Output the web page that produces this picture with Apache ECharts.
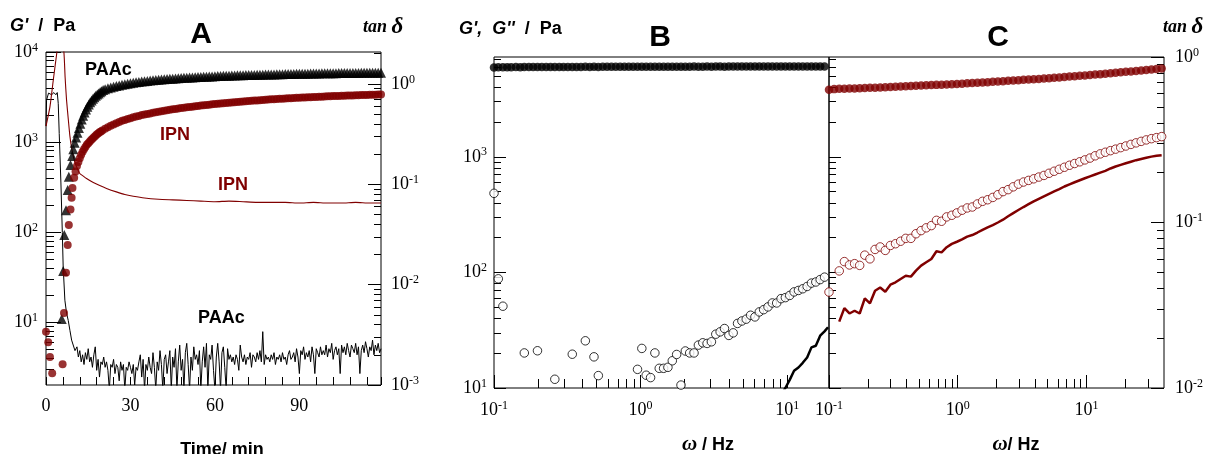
<!DOCTYPE html>
<html>
<head>
<meta charset="utf-8">
<script src="https://cdn.jsdelivr.net/npm/echarts@6/dist/echarts.min.js"></script>
<style>
  html, body { margin: 0; padding: 0; background: #fff; }
  #chart { width: 1219px; height: 454px; }
</style>
</head>
<body>
<div id="chart"></div>
<script>
// ---------- Panel A: G' and tan delta versus time ----------
const tPAAc = [5.6, 6.1, 6.5, 7.1, 7.7, 8.1, 8.7, 9.3, 9.7, 10.2, 10.7, 11.2, 11.7, 12.2, 12.7, 13.2, 13.7, 14.2, 14.7, 15.2,
  15.7, 16.2, 16.7, 17.2, 17.7, 18.2, 18.7, 19.2, 19.7, 20.3, 21, 22, 23, 24, 25, 26, 27, 28, 29, 30,
  31, 32, 33, 34, 35, 36, 37, 38, 39, 40, 41, 42, 43, 44, 45, 46, 47, 48, 49, 50,
  51, 52, 53, 54, 55, 56, 57, 58, 59, 60, 61, 62, 63, 64, 65, 66, 67, 68, 69, 70,
  71, 72, 73, 74, 75, 76, 77, 78, 79, 80, 81, 82, 83, 84, 85, 86, 87, 88, 89, 90,
  91, 92, 93, 94, 95, 96, 97, 98, 99, 100, 101, 102, 103, 104, 105, 106, 107, 108, 109, 110,
  111, 112, 113, 114, 115, 116, 117, 118, 119];
const gPAAc = [10.8, 37, 93, 175, 293, 412, 555, 698, 830, 980, 1120, 1270, 1430, 1600, 1780, 1960, 2130, 2300, 2460, 2610,
  2760, 2900, 3030, 3150, 3260, 3370, 3470, 3570, 3670, 3780, 3860, 3950, 4030, 4110, 4180, 4250, 4320, 4380, 4440, 4500,
  4550, 4600, 4650, 4690, 4730, 4770, 4810, 4850, 4880, 4910, 4940, 4970, 5000, 5030, 5060, 5080, 5110, 5130, 5160, 5180,
  5200, 5220, 5240, 5260, 5280, 5300, 5320, 5340, 5360, 5380, 5400, 5410, 5430, 5440, 5460, 5470, 5490, 5500, 5510, 5530,
  5540, 5550, 5560, 5570, 5580, 5590, 5600, 5610, 5620, 5630, 5640, 5650, 5660, 5670, 5680, 5690, 5700, 5710, 5720, 5730,
  5740, 5740, 5750, 5760, 5770, 5770, 5780, 5790, 5790, 5800, 5810, 5810, 5820, 5830, 5830, 5840, 5840, 5850, 5850, 5860,
  5860, 5870, 5870, 5880, 5880, 5890, 5890, 5900, 5900];

const tIPN = [0, 0.8, 1.4, 2.2, 5.9, 6.4, 7.1, 7.7, 8.1, 8.7, 9.1, 9.4, 10.0, 10.5, 11, 11.5, 12, 12.5, 13, 13.5,
  14, 14.5, 15, 15.5, 16, 16.5, 17, 17.5, 18, 18.5, 19, 19.5, 20, 21, 22, 23, 24, 25, 26, 27,
  28, 29, 30, 31, 32, 33, 34, 35, 36, 37, 38, 39, 40, 41, 42, 43, 44, 45, 46, 47,
  48, 49, 50, 51, 52, 53, 54, 55, 56, 57, 58, 59, 60, 61, 62, 63, 64, 65, 66, 67,
  68, 69, 70, 71, 72, 73, 74, 75, 76, 77, 78, 79, 80, 81, 82, 83, 84, 85, 86, 87,
  88, 89, 90, 91, 92, 93, 94, 95, 96, 97, 98, 99, 100, 101, 102, 103, 104, 105, 106, 107,
  108, 109, 110, 111, 112, 113, 114, 115, 116, 117, 118, 119];
const gIPN = [7.8, 5.96, 4.1, 2.7, 3.4, 12.6, 35.3, 71.7, 120, 178, 240, 309, 400, 470, 540, 600, 660, 720, 780, 830,
  880, 930, 970, 1010, 1050, 1090, 1130, 1170, 1210, 1240, 1280, 1310, 1340, 1400, 1460, 1520, 1570, 1620, 1670, 1720,
  1760, 1800, 1840, 1880, 1920, 1950, 1990, 2020, 2050, 2080, 2110, 2140, 2170, 2200, 2230, 2260, 2280, 2310, 2330, 2360,
  2380, 2400, 2430, 2450, 2470, 2490, 2520, 2540, 2560, 2580, 2600, 2620, 2640, 2660, 2680, 2700, 2710, 2730, 2750, 2770,
  2790, 2800, 2820, 2840, 2850, 2870, 2890, 2900, 2920, 2930, 2950, 2960, 2980, 2990, 3000, 3020, 3030, 3050, 3060, 3070,
  3080, 3100, 3110, 3120, 3130, 3140, 3150, 3160, 3170, 3180, 3190, 3200, 3220, 3230, 3240, 3240, 3250, 3260, 3270, 3280,
  3280, 3290, 3300, 3310, 3320, 3320, 3330, 3340, 3350, 3360, 3370, 3380];

const tTanPAAc = [0, 0.2, 0.9, 2.0, 2.8, 3.5, 4.0, 4.35, 4.7, 5.3, 5.8, 6.1, 6.7, 7.3, 7.9, 8.5, 9.1, 9.7, 10.3,
  11, 11.5, 12, 12.5, 13, 13.5, 14, 14.5, 15, 15.5, 16,
  16.5, 17, 17.5, 18, 18.5, 19, 19.5, 20, 20.5, 21, 21.5,
  22, 22.5, 23, 23.5, 24, 24.5, 25, 25.5, 26, 26.5, 27,
  27.5, 28, 28.5, 29, 29.5, 30, 30.5, 31, 31.5, 32, 32.5,
  33, 33.5, 34, 34.5, 35, 35.5, 36, 36.5, 37, 37.5, 38,
  38.5, 39, 39.5, 40, 40.5, 41, 41.5, 42, 42.5, 43, 43.5,
  44, 44.5, 45, 45.5, 46, 46.5, 47, 47.5, 48, 48.5, 49,
  49.5, 50, 50.5, 51, 51.5, 52, 52.5, 53, 53.5, 54, 54.5,
  55, 55.5, 56, 56.5, 57, 57.5, 58, 58.5, 59, 59.5, 60,
  60.5, 61, 61.5, 62, 62.5, 63, 63.5, 64, 64.5, 65, 65.5,
  66, 66.5, 67, 67.5, 68, 68.5, 69, 69.5, 70, 70.5, 71,
  71.5, 72, 72.5, 73, 73.5, 74, 74.5, 75, 75.5, 76, 76.5,
  77, 77.5, 78, 78.5, 79, 79.5, 80, 80.5, 81, 81.5, 82,
  82.5, 83, 83.5, 84, 84.5, 85, 85.5, 86, 86.5, 87, 87.5,
  88, 88.5, 89, 89.5, 90, 90.5, 91, 91.5, 92, 92.5, 93,
  93.5, 94, 94.5, 95, 95.5, 96, 96.5, 97, 97.5, 98, 98.5,
  99, 99.5, 100, 100.5, 101, 101.5, 102, 102.5, 103, 103.5, 104,
  104.5, 105, 105.5, 106, 106.5, 107, 107.5, 108, 108.5, 109, 109.5,
  110, 110.5, 111, 111.5, 112, 112.5, 113, 113.5, 114, 114.5, 115,
  115.5, 116, 116.5, 117, 117.5, 118, 118.5, 119];
const tanPAAc = [0.38, 0.69, 0.81, 0.78, 0.82, 0.78, 0.82, 0.64, 0.32, 0.103, 0.033, 0.015, 0.007, 0.0052, 0.0044, 0.0035, 0.0028, 0.0029, 0.0022,
  0.0024, 0.0019, 0.0022, 0.0017, 0.0020, 0.0016, 0.0021, 0.0018, 0.0023, 0.0017, 0.0019,
  0.0015, 0.0020, 0.0024, 0.0014, 0.0018, 0.0012, 0.0017, 0.0016, 0.0019, 0.0015, 0.0017,
  0.0014, 0.0009, 0.0016, 0.0015, 0.0018, 0.0013, 0.0016, 0.0015, 0.0011, 0.0017, 0.0014,
  0.0016, 0.0009, 0.0015, 0.0014, 0.0017, 0.0015, 0.0013, 0.0016, 0.0010, 0.0015, 0.0014,
  0.0017, 0.0020, 0.0012, 0.0018, 0.0009, 0.0016, 0.0014, 0.0019, 0.0015, 0.0013, 0.0021,
  0.0015, 0.0009, 0.0017, 0.0014, 0.0022, 0.0016, 0.0009, 0.0018, 0.0020, 0.0013, 0.0017,
  0.0022, 0.0009, 0.0019, 0.0015, 0.0023, 0.0009, 0.0017, 0.0025, 0.0014, 0.0018, 0.0009,
  0.0021, 0.0026, 0.0016, 0.0009, 0.0019, 0.0014, 0.0024, 0.0018, 0.0020, 0.0016, 0.0022,
  0.0009, 0.0017, 0.0024, 0.0015, 0.0026, 0.0009, 0.0020, 0.0018, 0.0025, 0.0014, 0.0009,
  0.0019, 0.0026, 0.0017, 0.0009, 0.0021, 0.0024, 0.0015, 0.0009, 0.0023, 0.0018, 0.0020,
  0.0017, 0.0019, 0.0016, 0.0020, 0.0018, 0.0014, 0.0025, 0.0019, 0.0017, 0.0020, 0.0016,
  0.0019, 0.0018, 0.0021, 0.0015, 0.0020, 0.0019, 0.0017, 0.0021, 0.0018, 0.0022, 0.0017,
  0.0034, 0.0016, 0.0020, 0.0018, 0.0019, 0.0017, 0.0020, 0.0018, 0.0021, 0.0016, 0.0019,
  0.0018, 0.0020, 0.0017, 0.0021, 0.0018, 0.0019, 0.0016, 0.0020, 0.0022, 0.0018, 0.0019,
  0.0021, 0.0017, 0.0023, 0.0019, 0.0013, 0.0022, 0.0020, 0.0024, 0.0018, 0.0021, 0.0019,
  0.0022, 0.0017, 0.0024, 0.0020, 0.0013, 0.0023, 0.0021, 0.0019, 0.0024, 0.0020, 0.0022,
  0.0020, 0.0025, 0.0019, 0.0023, 0.0021, 0.0026, 0.0018, 0.0022, 0.0024, 0.0020, 0.0023,
  0.0013, 0.0025, 0.0021, 0.0024, 0.0020, 0.0026, 0.0022, 0.0019, 0.0025, 0.0023, 0.0021,
  0.0026, 0.0020, 0.0024, 0.0013, 0.0022, 0.0025, 0.0021, 0.0027, 0.0023, 0.0019, 0.0024,
  0.0022, 0.0028, 0.0020, 0.0025, 0.0022, 0.0026, 0.0021, 0.0023];

const tTanIPN = [0, 1.4, 2.6, 3.8, 4.6, 5.6, 6.4, 6.8, 7.3, 7.9, 8.5, 9.1, 9.7, 10.5, 11.4, 12, 13, 14.4, 16.8, 19.1,
  21.5, 25, 28, 31, 35, 40, 45, 50, 55, 60, 65, 70, 75, 80, 85, 90, 95, 100, 105, 110, 115, 119];
const tanIPN = [0.38, 0.59, 1.1, 2.0, 3.0, 3.0, 2.0, 1.15, 0.69, 0.45, 0.30, 0.23, 0.19, 0.158, 0.138, 0.128, 0.122, 0.114, 0.104, 0.097,
  0.091, 0.084, 0.079, 0.076, 0.073, 0.071, 0.070, 0.069, 0.068, 0.067, 0.068, 0.067, 0.066, 0.066, 0.066, 0.065, 0.066, 0.065, 0.065, 0.066, 0.065, 0.065];

// ---------- Panel B: PAAc frequency sweep ----------
const freqB = [0.100, 0.107, 0.115, 0.123, 0.131, 0.141, 0.151, 0.161, 0.173, 0.185, 0.198, 0.212, 0.227, 0.243, 0.260, 0.279,
  0.298, 0.319, 0.342, 0.366, 0.392, 0.420, 0.450, 0.481, 0.515, 0.552, 0.591, 0.633, 0.677, 0.725, 0.776, 0.831,
  0.890, 0.953, 1.020, 1.092, 1.170, 1.252, 1.341, 1.436, 1.537, 1.646, 1.762, 1.887, 2.020, 2.163, 2.316, 2.480,
  2.656, 2.843, 3.044, 3.260, 3.490, 3.737, 4.001, 4.284, 4.587, 4.912, 5.259, 5.631, 6.029, 6.456, 6.912, 7.401,
  7.925, 8.485, 9.085, 9.725, 10.41, 11.15, 11.94, 12.78, 13.69, 14.65, 15.69, 16.80, 17.99];
const gPrimeB = [5930, 5950, 5960, 5950, 5960, 5970, 5960, 5970, 5970, 5980, 5970, 5980, 5980, 5970, 5980, 5990,
  5980, 5990, 5990, 5980, 5990, 6000, 5990, 6000, 5990, 6000, 6000, 6010, 6000, 6000, 6010, 6000,
  6010, 6010, 6000, 6010, 6020, 6010, 6010, 6020, 6010, 6020, 6020, 6010, 6020, 6020, 6030, 6020,
  6020, 6030, 6020, 6030, 6030, 6020, 6030, 6030, 6040, 6030, 6030, 6040, 6030, 6040, 6040, 6030,
  6040, 6040, 6050, 6040, 6040, 6050, 6040, 6050, 6050, 6040, 6050, 6050, 6050];
const gDoubleB = [483, 88, 51, null, null, null, null, 20.1, null, null, 21, null, null, null, 11.9, null,
  null, null, 19.6, null, null, 25.6, null, 18.6, 12.8, null, null, null, null, null, null, null,
  null, 14.5, 22, 12.9, 12.3, 20.1, 14.8, 14.8, 15.1, 17.2, 19.5, 10.6, 20.9, 20.1, 20.1, 23.5,
  24.6, 24.3, 25.1, 29.2, 30.6, 32.7, 28.5, 30.0, 36.2, 38.0, 39.4, 42.6, 41.2, 45.5, 47.6, 50.3,
  54.4, 54.4, 59.3, 60.5, 63.2, 67.8, 69.8, 72.2, 75.6, 80.8, 82.6, 86.7, 91.0];
const freqTanB = [9.2, 9.725, 10.41, 11.15, 11.94, 12.78, 13.69, 14.65, 15.69, 16.80, 17.99, 19.0];
const tanB = [0.0092, 0.0100, 0.0112, 0.0127, 0.0133, 0.0142, 0.0153, 0.0176, 0.0180, 0.0207, 0.0220, 0.0233];

// ---------- Panel C: IPN frequency sweep ----------
const freqC = [0.1, 0.1096, 0.1201, 0.1316, 0.1442, 0.158, 0.1731, 0.1897, 0.208, 0.2279, 0.2497, 0.2736, 0.2999, 0.3286,
  0.3601, 0.3946, 0.4325, 0.4739, 0.5193, 0.5691, 0.6237, 0.6834, 0.7489, 0.8207, 0.8995, 0.9857, 1.080, 1.184,
  1.297, 1.422, 1.558, 1.707, 1.871, 2.050, 2.247, 2.462, 2.698, 2.957, 3.240, 3.551, 3.890, 4.264, 4.672, 5.120,
  5.610, 6.148, 6.737, 7.383, 8.091, 8.866, 9.716, 10.65, 11.67, 12.79, 14.01, 15.36, 16.83, 18.44, 20.21, 22.14,
  24.27, 26.59, 29.14, 31.94, 34.99, 38.35];
const gPrimeC = [3800, 3850, 3870, 3880, 3890, 3900, 3920, 3930, 3950, 3960, 3980, 3990, 4010, 4030, 4050, 4070,
  4090, 4110, 4130, 4150, 4170, 4190, 4210, 4230, 4250, 4270, 4290, 4320, 4340, 4370, 4390, 4420, 4450, 4480,
  4510, 4540, 4570, 4600, 4630, 4660, 4690, 4720, 4750, 4790, 4820, 4860, 4900, 4940, 4980, 5020, 5060, 5100,
  5140, 5190, 5230, 5280, 5330, 5380, 5430, 5480, 5530, 5590, 5640, 5700, 5760, 5820];
const gDoubleC = [67.6, null, 103, 124, 116, 119, 115, 141, 131, 158, 166, 155, 171, 177, 186, 197, 197, 216, 230, 243,
  254, 282, 277, 302, 312, 327, 345, 361, 368, 391, 412, 425, 445, 470, 500, 520, 550, 580, 605, 625,
  645, 668, 690, 720, 750, 780, 812, 845, 875, 905, 940, 975, 1020, 1060, 1095, 1130, 1165, 1200, 1240, 1280,
  1320, 1360, 1400, 1435, 1465, 1495];
const tanC = [0.0172, null, 0.0252, 0.0304, 0.0282, 0.0293, 0.0282, 0.0348, 0.0325, 0.0387, 0.0405, 0.0382, 0.0421, 0.0435,
  0.0456, 0.0477, 0.0471, 0.0512, 0.0549, 0.0575, 0.0602, 0.067, 0.066, 0.0709, 0.0743, 0.0765, 0.0790, 0.0822,
  0.0840, 0.0870, 0.0903, 0.0935, 0.0965, 0.100, 0.104, 0.109, 0.114, 0.119, 0.124, 0.129, 0.134, 0.139, 0.144,
  0.149, 0.154, 0.159, 0.165, 0.170, 0.175, 0.180, 0.185, 0.190, 0.195, 0.200, 0.205, 0.212, 0.218, 0.223, 0.228,
  0.233, 0.238, 0.242, 0.246, 0.250, 0.253, 0.255];

// tick labels
const timeTicks = [0, 30, 60, 90];
const gTicks = [10, 100, 1000, 10000];
const tanTicksA = [0.001, 0.01, 0.1, 1];
const tanTicksC = [0.01, 0.1, 1];
const freqTicks = [0.1, 1, 10];

const RED = '#800000';
const SERIF = 'Liberation Serif';
const SANS = 'Liberation Sans';

// 2..9 x 10^n between lo and hi, for minor ticks of log axes
function logMinor(lo, hi) {
  const out = [];
  for (let e = -4; e <= 4; e++) {
    for (let k = 2; k <= 9; k++) {
      const v = +(k * Math.pow(10, e)).toPrecision(3);
      if (v > lo * 1.0001 && v < hi * 0.9999) out.push(v);
    }
  }
  return out;
}

function pairs(xs, ys, keepGaps) {
  const out = [];
  xs.forEach((x, i) => {
    if (ys[i] != null) out.push([x, ys[i]]);
    else if (keepGaps) out.push([x, '-']);
  });
  return out;
}

const powRich = {
  b: { fontFamily: SERIF, fontSize: 18, color: '#000' },
  s: { fontFamily: SERIF, fontSize: 12, color: '#000', padding: [0, 0, 9, 0] }
};
function powLabel(v) {
  const e = Math.round(Math.log10(v));
  return '{b|10}{s|' + e + '}';
}

function logAxis(grid, pos, min, max, ticks, len, labels, margin) {
  return {
    type: 'log', logBase: 10, gridIndex: grid, position: pos, min: min, max: max,
    axisLine: { show: false },
    splitLine: { show: false },
    axisTick: { show: true, inside: true, length: len, customValues: ticks, lineStyle: { color: '#000', width: 1 } },
    axisLabel: labels
      ? { show: true, customValues: ticks, formatter: powLabel, rich: powRich, margin: margin }
      : { show: false }
  };
}

const chart = echarts.init(document.getElementById('chart'), null, { renderer: 'canvas' });

const gridBase = { show: true, borderColor: '#000', borderWidth: 1, backgroundColor: 'transparent', outerBoundsMode: 'none', containLabel: false };

const option = {
  animation: false,
  backgroundColor: '#fff',
  grid: [
    Object.assign({ left: 46, top: 52, width: 335, height: 333 }, gridBase),
    Object.assign({ left: 494, top: 57, width: 335, height: 331 }, gridBase),
    Object.assign({ left: 829, top: 57, width: 335, height: 331 }, gridBase)
  ],
  xAxis: [
    {
      type: 'value', gridIndex: 0, min: 0, max: 119, interval: 30,
      axisLine: { show: false }, splitLine: { show: false },
      axisTick: { inside: true, length: 8, lineStyle: { color: '#000' } },
      minorTick: { show: true, splitNumber: 5, length: 8, lineStyle: { color: '#000' } },
      axisLabel: { customValues: timeTicks, fontFamily: SERIF, fontSize: 18, color: '#000', margin: 12 }
    },
    logAxis(1, 'bottom', 0.1, 19.3, freqTicks, 13, true, 12),
    logAxis(1, 'bottom', 0.1, 19.3, logMinor(0.1, 19.3), 9, false),
    logAxis(2, 'bottom', 0.1, 40, freqTicks, 13, true, 12),
    logAxis(2, 'bottom', 0.1, 40, logMinor(0.1, 40), 9, false)
  ],
  yAxis: [
    logAxis(0, 'left', 2, 10000, gTicks, 15, true, 8),
    logAxis(0, 'left', 2, 10000, logMinor(2, 10000), 8, false),
    logAxis(0, 'right', 0.001, 2.08, tanTicksA, 13, true, 10),
    logAxis(0, 'right', 0.001, 2.08, logMinor(0.001, 2.08), 7, false),
    logAxis(1, 'left', 10, 7300, gTicks, 12, true, 7),
    logAxis(1, 'left', 10, 7300, logMinor(10, 7300), 7, false),
    { type: 'log', gridIndex: 1, position: 'right', min: 0.01, max: 1, show: false },
    logAxis(2, 'left', 10, 7300, gTicks, 12, false),
    logAxis(2, 'left', 10, 7300, logMinor(10, 7300), 7, false),
    logAxis(2, 'right', 0.01, 1, tanTicksC, 13, true, 11),
    logAxis(2, 'right', 0.01, 1, logMinor(0.01, 1), 7, false)
  ],
  series: [
    { name: 'tan PAAc', type: 'line', xAxisIndex: 0, yAxisIndex: 2, data: pairs(tTanPAAc, tanPAAc),
      symbol: 'none', lineStyle: { color: '#000', width: 1 }, z: 2 },
    { name: 'tan IPN', type: 'line', xAxisIndex: 0, yAxisIndex: 2, data: pairs(tTanIPN, tanIPN),
      symbol: 'none', smooth: 0.2, lineStyle: { color: RED, width: 1.1 }, z: 2 },
    { name: "G' PAAc", type: 'scatter', xAxisIndex: 0, yAxisIndex: 0, data: pairs(tPAAc, gPAAc),
      symbol: 'triangle', symbolSize: 10, itemStyle: { color: '#000' }, z: 3 },
    { name: "G' IPN", type: 'scatter', xAxisIndex: 0, yAxisIndex: 0, data: pairs(tIPN, gIPN),
      symbol: 'circle', symbolSize: 8, itemStyle: { color: RED }, z: 4 },

    { name: "G' PAAc freq", type: 'scatter', xAxisIndex: 1, yAxisIndex: 4, data: pairs(freqB, gPrimeB),
      symbolSize: 8.5, itemStyle: { color: '#000' } },
    { name: "G'' PAAc freq", type: 'scatter', xAxisIndex: 1, yAxisIndex: 4, data: pairs(freqB, gDoubleB),
      symbolSize: 8.5, itemStyle: { color: '#fff', borderColor: '#000', borderWidth: 1 } },
    { name: 'tan PAAc freq', type: 'line', xAxisIndex: 1, yAxisIndex: 6, data: pairs(freqTanB, tanB),
      symbol: 'none', lineStyle: { color: '#000', width: 2.5 } },

    { name: "G' IPN freq", type: 'scatter', xAxisIndex: 3, yAxisIndex: 7, data: pairs(freqC, gPrimeC),
      symbolSize: 8.5, itemStyle: { color: RED } },
    { name: "G'' IPN freq", type: 'scatter', xAxisIndex: 3, yAxisIndex: 7, data: pairs(freqC, gDoubleC),
      symbolSize: 8.5, itemStyle: { color: '#fff', borderColor: RED, borderWidth: 1 } },
    { name: 'tan IPN freq', type: 'line', xAxisIndex: 3, yAxisIndex: 9, data: pairs(freqC, tanC, true),
      symbol: 'none', connectNulls: false, lineStyle: { color: RED, width: 2.5 } }
  ],
  graphic: [
    { type: 'text', x: 10, y: 26, style: { text: "{i|G'}  /  Pa", verticalAlign: 'middle', fill: '#000',
      font: 'bold 18px ' + SANS, rich: { i: { font: 'italic bold 18px ' + SANS } } } },
    { type: 'text', x: 201, y: 35, style: { text: 'A', align: 'center', verticalAlign: 'middle', fill: '#000', font: 'bold 30px ' + SANS } },
    { type: 'text', x: 363, y: 27, style: { text: 'tan {d|δ}', verticalAlign: 'middle', fill: '#000',
      font: 'italic bold 18px ' + SERIF, rich: { d: { font: 'italic bold 23px ' + SERIF } } } },
    { type: 'text', x: 459, y: 29, style: { text: "{i|G',  G''}  /  Pa", verticalAlign: 'middle', fill: '#000',
      font: 'bold 18px ' + SANS, rich: { i: { font: 'italic bold 18px ' + SANS } } } },
    { type: 'text', x: 660, y: 38, style: { text: 'B', align: 'center', verticalAlign: 'middle', fill: '#000', font: 'bold 30px ' + SANS } },
    { type: 'text', x: 998, y: 38, style: { text: 'C', align: 'center', verticalAlign: 'middle', fill: '#000', font: 'bold 30px ' + SANS } },
    { type: 'text', x: 1163, y: 27, style: { text: 'tan {d|δ}', verticalAlign: 'middle', fill: '#000',
      font: 'italic bold 18px ' + SERIF, rich: { d: { font: 'italic bold 23px ' + SERIF } } } },
    { type: 'text', x: 222, y: 450, style: { text: 'Time/ min', align: 'center', verticalAlign: 'middle', fill: '#000', font: 'bold 18px ' + SANS } },
    { type: 'text', x: 708, y: 445, style: { text: '{w|ω} / Hz', align: 'center', verticalAlign: 'middle', fill: '#000',
      font: 'bold 18px ' + SANS, rich: { w: { font: 'italic bold 21px ' + SERIF } } } },
    { type: 'text', x: 1016, y: 445, style: { text: '{w|ω}/ Hz', align: 'center', verticalAlign: 'middle', fill: '#000',
      font: 'bold 18px ' + SANS, rich: { w: { font: 'italic bold 21px ' + SERIF } } } },
    { type: 'text', x: 85, y: 70, style: { text: 'PAAc', verticalAlign: 'middle', fill: '#000', font: 'bold 18px ' + SANS } },
    { type: 'text', x: 160, y: 135, style: { text: 'IPN', verticalAlign: 'middle', fill: RED, font: 'bold 18px ' + SANS } },
    { type: 'text', x: 218, y: 185, style: { text: 'IPN', verticalAlign: 'middle', fill: RED, font: 'bold 18px ' + SANS } },
    { type: 'text', x: 198, y: 318, style: { text: 'PAAc', verticalAlign: 'middle', fill: '#000', font: 'bold 18px ' + SANS } }
  ]
};

chart.setOption(option);
window.addEventListener('resize', () => chart.resize());
</script>
</body>
</html>
